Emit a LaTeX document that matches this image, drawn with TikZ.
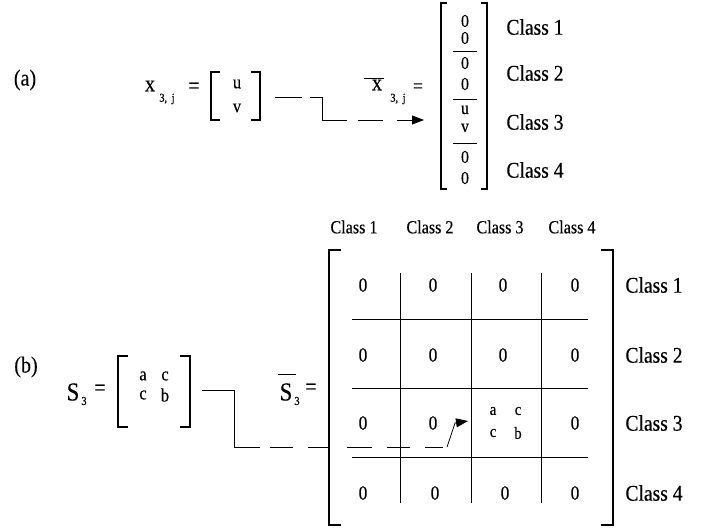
\documentclass[tikz,border=0pt]{standalone}
\usepackage{fontspec}
\setmainfont{Liberation Serif}[FakeStretch=0.87,FakeBold=0.3]
\usetikzlibrary{arrows.meta}
\tikzset{
  brk/.style={line width=1.7pt},
  grd/.style={line width=0.8pt},
  conn/.style={line width=0.8pt},
  txt/.style={inner sep=0pt, font=\fontsize{20}{22}\selectfont},
  big/.style={inner sep=0pt, font=\fontsize{23}{25}\selectfont},
  lbl/.style={inner sep=0pt, font=\fontsize{22.5}{24}\selectfont},
  hdr/.style={inner sep=0pt, font=\fontsize{18.5}{20}\selectfont},
  ent/.style={inner sep=0pt, font=\fontsize{18}{20}\selectfont},
  sub/.style={inner sep=0pt, font=\fontsize{12}{13}\selectfont},
  sm/.style={inner sep=0pt, font=\fontsize{19}{21}\selectfont},
  inn/.style={inner sep=0pt, font=\fontsize{17}{19}\selectfont},
  smat/.style={inner sep=0pt, font=\fontsize{19}{21}\selectfont},
}
\begin{document}
\begin{tikzpicture}[x=1pt,y=-1pt]
\useasboundingbox (0,0) rectangle (709,529);
% ---------- (a) ----------
\node[big] (la) at (25,80) {(a)};
\node[big] (xa) at (150,86) {x};
\node[sub] (xas) at (167,99) {3,\, j};
\node[big] (eqa) at (194,88) {=};
\draw[brk] (220,72) -- (211,72) -- (211,120) -- (220,120);
\draw[brk] (251,72) -- (260,72) -- (260,120) -- (251,120);
\node[sm] (u) at (237,84) {u};
\node[sm] (v) at (237,108) {v};
\node[big] (xb) at (377,85) {x};
\node[sub] (xbs) at (398,99) {3,\, j};
\draw[conn] (364,78) -- (384,78);
\node[txt] (eqb) at (418,88) {=};
\draw[brk] (447,3) -- (441,3) -- (441,189) -- (447,189);
\draw[brk] (481,3) -- (487,3) -- (487,189) -- (481,189);
\node[ent] (c1) at (465,21) {0};
\node[ent] (c2) at (465,38) {0};
\node[ent] (c3) at (465,63) {0};
\node[ent] (c4) at (465,84) {0};
\node[ent] (c5) at (465,110) {u};
\node[ent] (c6) at (465,128) {v};
\node[ent] (c7) at (465,157) {0};
\node[ent] (c8) at (465,178) {0};
\draw[grd] (453,51) -- (477,51);
\draw[grd] (453,99) -- (477,99);
\draw[grd] (453,143) -- (477,143);
\node[lbl] (ca1) at (535,27) {Class 1};
\node[lbl] (ca2) at (535,73) {Class 2};
\node[lbl] (ca3) at (535,122) {Class 3};
\node[lbl] (ca4) at (535,170) {Class 4};
\coordinate (aS) at (275,97);
\coordinate (aC1) at (322,97);
\coordinate (aC2) at (322,120);
\coordinate (aE) at (424,120);
\draw[conn, dash pattern=on 27pt off 8pt on 60pt off 11pt on 25pt off 14pt on 40pt,
      -{Triangle[length=12pt,width=9pt]}] (aS) -- (aC1) -- (aC2) -- (aE);
% ---------- (b) ----------
\node[big] (lb) at (26,367) {(b)};
\node[inner sep=0pt, font=\fontsize{26}{28}\selectfont] (S) at (73,392) {S};
\node[sub] (Ss) at (84,401) {3};
\node[big] (eqc) at (100,390) {=};
\draw[brk] (128,356) -- (118,356) -- (118,427) -- (128,427);
\draw[brk] (180,356) -- (190,356) -- (190,427) -- (180,427);
\node[smat] (sa) at (143,376) {a};
\node[smat] (sc1) at (165,376) {c};
\node[smat] (sc2) at (143,395) {c};
\node[smat] (sb) at (165,395) {b};
\node[inner sep=0pt, font=\fontsize{26}{28}\selectfont] (Sb) at (286,392) {S};
\node[sub] (Sbs) at (297,401) {3};
\draw[conn] (278,374) -- (296,374);
\node[big] (eqd) at (311,389) {=};
\draw[brk] (341,250) -- (329,250) -- (329,525) -- (341,525);
\draw[brk] (601,250) -- (613,250) -- (613,525) -- (601,525);
% grid
\foreach \x in {400,471,541} \draw[grd] (\x,273) -- (\x,503);
\foreach \y in {319,388,457} \draw[grd] (352,\y) -- (588,\y);
% headers
\node[hdr] (h1) at (354,227) {Class 1};
\node[hdr] (h2) at (430,227) {Class 2};
\node[hdr] (h3) at (500,227) {Class 3};
\node[hdr] (h4) at (572,227) {Class 4};
% row labels
\node[lbl] (r1) at (654,285) {Class 1};
\node[lbl] (r2) at (654,355) {Class 2};
\node[lbl] (r3) at (654,423) {Class 3};
\node[lbl] (r4) at (654,493) {Class 4};
% entries
\node[txt] (m11) at (363,285) {0};
\node[txt] (m12) at (433,285) {0};
\node[txt] (m13) at (503,285) {0};
\node[txt] (m14) at (575,285) {0};
\node[txt] (m21) at (363,355) {0};
\node[txt] (m22) at (433,355) {0};
\node[txt] (m23) at (503,355) {0};
\node[txt] (m24) at (575,355) {0};
\node[txt] (m31) at (363,423) {0};
\node[txt] (m32) at (433,423) {0};
\node[inn] (ma) at (493,411) {a};
\node[inn] (mc1) at (518,411) {c};
\node[inn] (mc2) at (493,433) {c};
\node[inn] (mb) at (518,433) {b};
\node[txt] (m34) at (575,423) {0};
\node[txt] (m41) at (363,493) {0};
\node[txt] (m42) at (435,493) {0};
\node[txt] (m43) at (505,493) {0};
\node[txt] (m44) at (575,493) {0};
% connector (b)
\coordinate (bS) at (202,390);
\coordinate (bC1) at (234,390);
\coordinate (bC2) at (234,447);
\coordinate (bE) at (443,447);
\draw[conn, dash pattern=on 115pt off 10pt on 23pt off 15pt on 22pt off 17pt on 25pt off 15pt on 23pt off 15pt on 30pt]
  (bS) -- (bC1) -- (bC2) -- (bE);
\coordinate (bD1) at (447,447);
\coordinate (bD2) at (455,423);
\coordinate (bT) at (468,421);
\draw[conn, -{Triangle[length=12pt,width=9pt]}] (bD1) -- (bD2) -- (bT);
\end{tikzpicture}
\end{document}
